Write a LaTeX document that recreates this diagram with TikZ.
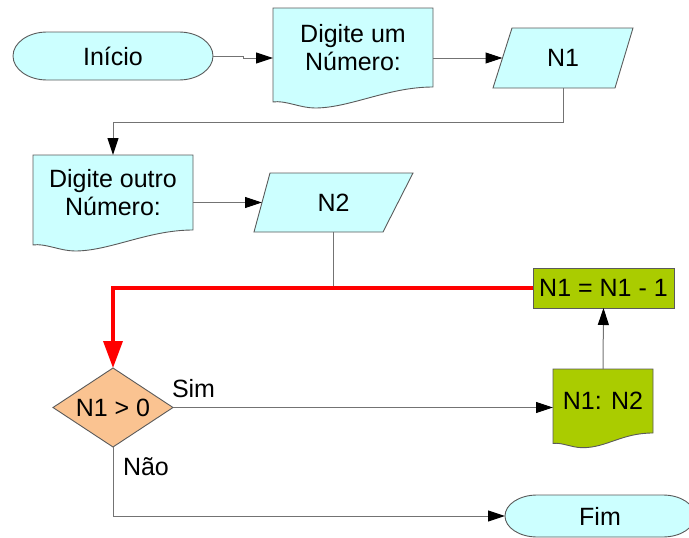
\documentclass[tikz,border=0pt]{standalone}
\usepackage{fontspec}
\setmainfont{Liberation Sans}
\usepackage{tikz}
\usetikzlibrary{calc}
\usetikzlibrary{arrows.meta}
\usetikzlibrary{shapes.geometric}
\usetikzlibrary{backgrounds}

\definecolor{paleblue}{RGB}{204,255,255}
\definecolor{leafgreen}{RGB}{170,204,0}
\definecolor{peach}{RGB}{250,195,145}
\definecolor{edgegray}{RGB}{115,115,115}
\definecolor{rimgray}{RGB}{90,90,90}

\tikzstyle{box}=[
    inner sep=0pt,
    outer sep=0pt,
    align=center,
    font=\fontsize{25}{28}\selectfont
]
\tikzstyle{rim}=[draw=rimgray, line width=0.9pt]
\tikzstyle{link}=[draw=edgegray, line width=1pt]
\tikzstyle{flow}=[link, -{Triangle[length=17pt,width=11pt,black]}]
\tikzstyle{backflow}=[draw=red, line width=3.5pt, -{Triangle[length=27pt,width=19pt]}]

% terminal: node, x radius, y radius, fill
\newcommand{\termshape}[4]{%
    \filldraw[rim, fill=#4] ($(#1.north west)+(#2,0)$) -- ($(#1.north east)+(-#2,0)$)
        .. controls +(0.552*#2,0) and +(0,-0.552*#3) .. (#1.east)
        .. controls +(0,0.552*#3) and +(0.552*#2,0) .. ($(#1.south east)+(-#2,0)$)
        -- ($(#1.south west)+(#2,0)$)
        .. controls +(-0.552*#2,0) and +(0,0.552*#3) .. (#1.west)
        .. controls +(0,-0.552*#3) and +(-0.552*#2,0) .. cycle;}
% document: node, fill, wave scale
\newcommand{\docshape}[3]{%
    \filldraw[rim, fill=#2] (#1.north west) -- (#1.north east) -- (#1.south east)
        .. controls +(-45*#3,0) and +(35*#3,0) .. ($(#1.south west)+(42*#3,21*#3)$)
        .. controls +(-15*#3,0) and +(12*#3,-2*#3) .. ($(#1.south west)+(0,15*#3)$)
        -- cycle;}
% data: node, top inset, bottom inset, fill
\newcommand{\ioshape}[4]{%
    \filldraw[rim, fill=#4] ($(#1.north west)+(#2,0)$) -- (#1.north east)
        -- ($(#1.south east)+(-#3,0)$) -- (#1.south west) -- cycle;}

\begin{document}
\begin{tikzpicture}[x=1pt, y=-1pt]
    \useasboundingbox (0,0) rectangle (689,538);
    \clip (0,0) rectangle (689,538);

    % top row
    \node[box, minimum width=200pt, minimum height=48pt] (inicio) at (113,56) {Início};
    \node[box, minimum width=160pt, minimum height=79pt] (msgA) at (353,47.5) {Digite um\\Número:};
    \node[box, minimum width=140pt, minimum height=60pt] (inN1) at (563,58) {N1};

    % second row
    \node[box, minimum width=160pt, minimum height=75pt] (msgB) at (113,192.5) {Digite outro\\Número:};
    \node[box, minimum width=159pt, minimum height=59pt] (inN2) at (333.5,202.5) {N2};

    % loop
    \node[box, rim, fill=leafgreen, minimum width=141pt, minimum height=40pt] (upd) at (603.5,288) {N1 = N1 - 1};
    \node[box, diamond, aspect=1.5, rim, fill=peach, minimum width=120pt, minimum height=79pt] (test) at (113,407.5) {N1 > 0};
    \node[box, minimum width=100pt, minimum height=64pt] (show) at (603,401) {N1: N2};
    \node[box, minimum width=190pt, minimum height=42pt] (fim) at (600,516) {Fim};

    \node[box, anchor=base west] (sim) at (172,397) {Sim};
    \node[box, anchor=base west] (nao) at (123,475) {Não};

    \begin{pgfonlayer}{background}
        \termshape{inicio}{34}{24}{paleblue}
        \termshape{fim}{32}{21}{paleblue}
        \docshape{msgA}{paleblue}{1}
        \docshape{msgB}{paleblue}{1}
        \docshape{show}{leafgreen}{0.7}
        \ioshape{inN1}{19}{18}{paleblue}
        \ioshape{inN2}{16}{30}{paleblue}
    \end{pgfonlayer}

    % connectors
    \draw[flow] (inicio.east) -- ++(30,0) |- ($(msgA.west)+(0,10.5)$);
    \draw[flow] (msgA.east |- inN1.center) -- ($(inN1.west)+(9.5,0)$);
    \draw[flow] (inN1.south) -- ++(0,34) -| (msgB.north);
    \draw[flow] (msgB.east |- inN2.center) -- ($(inN2.west)+(8,0)$);
    \coordinate (join) at (inN2.south |- upd.west);
    \draw[link] (inN2.south) -- (join);
    \draw[backflow] (upd.west) -| (test.north);
    \draw[flow] (test.east) -- (test.east -| show.west);
    \draw[flow] (show.north) -- (upd.south);
    \draw[flow] (test.south) |- (fim.west);
\end{tikzpicture}
\end{document}
